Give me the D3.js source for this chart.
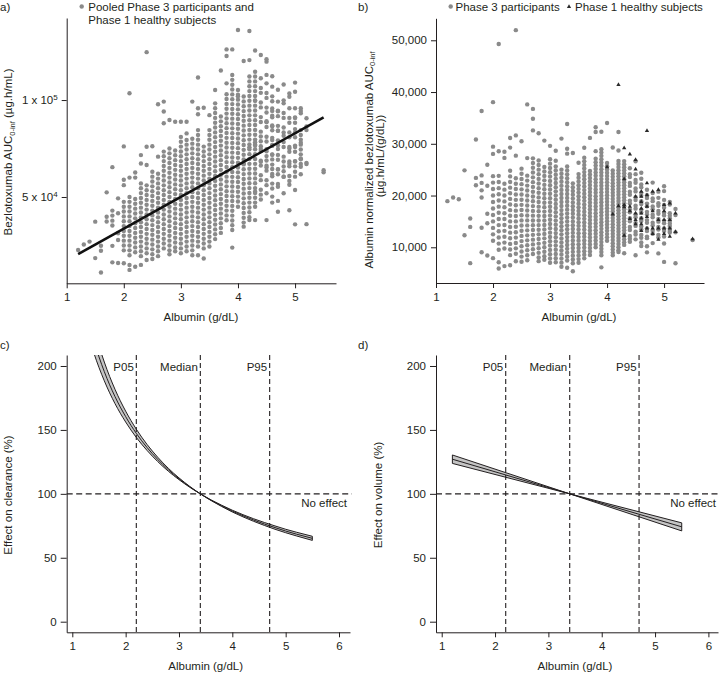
<!DOCTYPE html>
<html><head><meta charset="utf-8">
<script src="https://cdn.jsdelivr.net/npm/d3@7"></script>
<style>
body{margin:0;background:#fff}
svg{display:block}
text{font-family:"Liberation Sans",Arial,Helvetica,sans-serif;fill:#231f20}
</style>
</head><body>
<svg id="chart" width="720" height="673"></svg>
<script>
// ---------------- DATA ----------------
// Albumin columns (g/dL) of panel a; AUC values in thousand µg.h/mL
const albuminColumns = [1.2,1.3,1.4,1.5,1.6,1.7,1.8,1.9,2.0,2.1,2.2,2.3,2.4,2.5,2.6,2.7,2.8,2.9,3.0,3.1,3.2,3.3,3.4,3.5,3.6,3.7,3.8,3.9,4.0,4.1,4.2,4.3,4.4,4.5,4.6,4.7,4.8,4.9,5.0,5.1,5.2,5.3,5.4,5.5];
const aucColumns = [
 [22.7],
 [25.5],
 [27],
 [37.3,18.5],
 [24.9,22.3,11.1],
 [52.4,39.8,37.4],
 [65.4,43,40.4,37.8,35.3,24.8,16.3],
 [49.3,41.6,31.3,27.8,16],
 [76.1,58.9,56.1,47.5,45,42.5,40,37.5,35,32.5,30,27.5,25,22.5,15.8],
 [103.5,60,50,47.5,45,42.5,40,37.5,35,32.5,30,27.5,25,22.5,20,14.9,12.4],
 [62.6,60,49,46.5,44,41.5,39,36.5,34,31.5,29,26.5,24,21.5,14],
 [71.6,67.3,57,54.5,52,49.5,47,44.5,42,39.5,37,34.5,32,29.5,27,24.5,22,19.5,15],
 [124.7,75.9,66.5,56,53.5,51,48.5,46,43.5,41,38.5,36,33.5,31,28.5,26,23.5,21,17.5],
 [76.2,63,60.5,58,55.5,53,50.5,48,45.5,43,40.5,38,35.5,33,30.5,28,25.5,23,20.5,18],
 [97.8,70.8,62,59.5,57,54.5,52,49.5,47,44.5,42,39.5,37,34.5,32,29.5,27,24.5,22,19.5],
 [99.2,94.1,88,73.4,71,68.5,66,63.5,61,58.5,56,53.5,51,48.5,46,43.5,41,38.5,36,33.5,31,28.5,26,23.5],
 [89.7,75,72.5,70,67.5,65,62.5,60,57.5,55,52.5,50,47.5,45,42.5,40,37.5,35,32.5,30,27.5,25,22.5,20.5],
 [88.8,74,71.5,69,66.5,64,61.5,59,56.5,54,51.5,49,46.5,44,41.5,39,36.5,34,31.5,29,26.5,24,22],
 [88.8,81,78.5,76,73.5,71,68.5,66,63.5,61,58.5,56,53.5,51,48.5,46,43.5,41,38.5,36,33.5,31,28.5,26,23.5,21],
 [88.8,82.8,79.4,77,74.5,72,69.5,67,64.5,62,59.5,57,54.5,52,49.5,47,44.5,42,39.5,37,34.5,32,29.5,27,24.5,22],
 [99.2,80,77.5,75,72.5,70,67.5,65,62.5,60,57.5,55,52.5,50,47.5,45,42.5,40,37.5,35,32.5,30,27.5,25,22.5,20],
 [111.6,95.8,92.7,84.5,82,79.5,77,74.5,72,69.5,67,64.5,62,59.5,57,54.5,52,49.5,47,44.5,42,39.5,37,34.5,32,29.5,27,24.5,20],
 [96,76,73.5,71,68.5,66,63.5,61,58.5,56,53.5,51,48.5,46,43.5,41,38.5,36,33.5,31,28.5,26,23.5,18.3],
 [92.2,84.5,82,79.5,77,74.5,72,69.5,67,64.5,62,59.5,57,54.5,52,49.5,47,44.5,42,39.5,37,34.5,32,29.5,27,24.5],
 [105.2,98.3,95.8,93.3,90.8,88.3,85.8,83.3,80.8,78.3,75.8,73.3,70.8,68.3,65.8,63.3,60.8,58.3,55.8,53.3,50.8,48.3,45.8,43.3,40.8,38.3,35.8,33.3,30.8,28.3],
 [115.2,91.5,89,86.5,84,81.5,79,76.5,74,71.5,69,66.5,64,61.5,59,56.5,54,51.5,49,46.5,44,41.5,39,36.5,34,31.5],
 [126.1,122.7,108.6,103,100.5,98,95.5,93,90.5,88,85.5,83,80.5,78,75.5,73,70.5,68,65.5,63,60.5,58,55.5,53,50.5,48,45.5,43,40.5,38],
 [126.1,112.9,110.4,107.9,105.4,102.9,100.4,97.9,95.4,92.9,90.4,87.9,85.4,82.9,80.4,77.9,75.4,72.9,70.4,67.9,65.4,62.9,60.4,57.9,55.4,52.9,50.4,47.9,45.4,42.9,40.4,37.9,35.4,33,23.9],
 [136.1,105.2,102.7,100.2,97.7,95.2,92.7,90.2,87.7,85.2,82.7,80.2,77.7,75.2,72.7,70.2,67.7,65.2,62.7,60.2,57.7,55.2,52.7,50.2,47.7,45],
 [120.1,101.8,99.3,96.8,94.3,91.8,89.3,86.8,84.3,81.8,79.3,76.8,74.3,71.8,69.3,66.8,64.3,61.8,59.3,56.8,54.3,51.8,49.3,46.8,44.3,41.8,39.3,36.8,34.7],
 [135.6,120.6,112.1,109.6,107.1,104.6,102.1,99.6,97.1,94.6,92.1,89.6,87.1,84.6,82.1,79.6,77.1,74.6,72.1,69.6,67.1,64.6,62.1,59.6,57.1,54.6,52.1,49.6,47.1,44.6,42.1,39.6,38.1],
 [114.6,112.1,109.6,107.1,104.6,102.1,99.6,97.1,94.6,92.1,89.6,87.1,84.6,82.1,79.6,77.1,74.6,72.1,69.6,67.1,64.6,62.1,59.6,57.1,54.6,52.1,49.6,47.1,45,38.1],
 [111.2,106.2,103.7,98.7,96.2,91.2,88.7,83.7,81.2,76.2,73.7,68.7,66.2,61.2,58.7,53.7,51.2,48.7],
 [119.8,108.6,103.6,101.1,96.1,93.6,88.6,86.1,81.1,78.6,73.6,71.1,66.1,63.6,58.6,56.1,51.9,38.1],
 [112.3,106.9,101.9,99.4,94.4,91.9,86.9,84.4,79.4,76.9,71.9,69.4,64.4,61.9,56.9,54.4,50.2,47.1],
 [99.2,94.2,91.7,86.7,84.2,79.2,76.7,71.7,69.2,64.2,61.7,56.7,55.3,48,42.4],
 [108,98.3,93.3,90.8,85.8,83.3,78.3,75.8,70.8,68.3,63.3,60.5,51.9],
 [101.7,95.8,90.8,88.3,83.3,80.8,75.8,73.3,68.3,65.8,60.8,58.3,43.2],
 [109,104.3,95.8,90.8,88.3,83.3,80.8,75.8,73.3,68.3,65.8,60.5,53.6,35.9],
 [95.8,93.2,84.5,82,79.5,77,74.5,72,69.5,67,65.6],
 [90.6,84.5,67,36],
 [],
 [],
 [62.7]
];
// Phase 1 healthy subjects (panel b triangles): albumin g/dL, normalized AUC (thousand µg.h/mL/(g/dL))
const phase1Alb  = [4.0,4.1,4.2,4.2,4.3,4.3,4.3,4.3,4.3,4.4,4.4,4.4,4.4,4.5,4.5,4.5,4.5,4.5,4.5,4.6,4.6,4.6,4.6,4.6,4.6,4.6,4.6,4.7,4.7,4.7,4.7,4.7,4.7,4.8,4.8,4.8,4.8,4.9,4.9,4.9,4.9,5.0,5.0,5.0,5.0,5.0,5.1,5.1,5.1,5.1,5.2,5.2,5.5];
const phase1Norm = [25.5,16.4,41.4,18,29.2,23.2,18.2,17.8,12.3,28.0,17.9,17.0,15.5,26.9,25.1,19.8,16.6,15.3,14.5,20.8,19.8,18.8,17.5,16.6,15.6,14.5,13.2,32.5,22.4,20.1,17.9,15.9,13.7,20.8,17.0,13.7,12.6,21.1,15.3,13.7,11.5,18.2,17.0,15.3,13.7,12.6,18.5,15.3,13.7,12.1,16.6,13.0,11.6];
// Regression line of panel a (end points)
const fitAlb = [1.2, 5.5];
const fitAuc = [20.5, 91.1];
// Panel c: effect on clearance (%) – median curve and confidence band
const clAlb   = [1.2,1.4,1.6,1.8,2.0,2.2,2.4,2.6,2.8,3.0,3.2,3.4,3.6,3.8,4.0,4.2,4.4,4.6,4.8,5.0,5.2,5.5];
const clMid   = [252.7,220.3,195.6,176.1,160.4,147.3,136.3,127.0,118.9,111.8,105.5,100,95.0,90.6,86.5,82.9,79.5,76.4,73.6,70.9,68.5,65.2];
const clLow   = [239.8,210.7,188.4,170.6,156.2,144.1,134.0,125.3,117.7,111.1,105.2,100,95.3,91.1,87.2,83.7,80.5,77.6,74.9,72.3,70.0,66.8];
const clHigh  = [266.2,230.3,203.1,181.8,164.7,150.6,138.7,128.7,120.0,112.5,105.9,100,94.8,90.1,85.8,82.0,78.5,75.3,72.3,69.6,67.1,63.6];
// Panel d: effect on volume (%)
const vAlb  = [1.2, 3.4, 5.5];
const vMid  = [127.1, 100, 74.2];
const vLow  = [123.8, 100, 77.3];
const vHigh = [130.4, 100, 71.0];
// Reference lines
const refLabels = ["P05","Median","P95"];
const refAlb = [2.2, 3.4, 4.7];
const noEffect = 100;
// Ticks
const xTicksAB = [1,2,3,4,5];
const xTicksCD = [1,2,3,4,5,6];
const yTicksA = [50,100];
const yTickLabelsA = [["5 x 10","4"],["1 x 10","5"]];
const yTicksB = [10,20,30,40,50];
const yTicksCD = [0,50,100,150,200];

// ---------------- DRAWING ----------------
const INK = "#231f20", DOT = "#8a8a8a", BAND = "#c4c4c4";
const FONT = '"Liberation Sans",Arial,Helvetica,sans-serif';
const svg = d3.select("#chart");
const defs = svg.append("defs");

function styleAxis(g){
  g.attr("font-size",11.5).attr("font-family",FONT).attr("color",INK);
  g.selectAll("text").attr("fill",INK);
  g.selectAll("path.domain,line").attr("stroke",INK).attr("stroke-width",1);
}
function clip(id,x0,y0,x1,y1){
  defs.append("clipPath").attr("id",id).append("rect").attr("x",x0).attr("y",y0).attr("width",x1-x0).attr("height",y1-y0);
}

// ===== Panel a =====
const xA = d3.scaleLinear().domain([1,5.717]).range([66.7,336]);
const yA = d3.scaleLinear().domain([5.5,142.3]).range([283.3,18]);
clip("clipA",66.7,18,336,283.3);
const pointsA = [];
albuminColumns.forEach((a,i)=>aucColumns[i].forEach(v=>pointsA.push([a,v])));
phase1Alb.forEach((a,i)=>pointsA.push([a, phase1Norm[i]*a]));
svg.append("g").attr("clip-path","url(#clipA)").selectAll("circle").data(pointsA).join("circle")
  .attr("cx",d=>xA(d[0])).attr("cy",d=>yA(d[1])).attr("r",2.2).attr("fill",DOT);
svg.append("line").attr("x1",xA(fitAlb[0])).attr("y1",yA(fitAuc[0])).attr("x2",xA(fitAlb[1])).attr("y2",yA(fitAuc[1]))
  .attr("stroke","#111").attr("stroke-width",2.6);
svg.append("g").attr("transform","translate(0,283.3)")
  .call(d3.axisBottom(xA).tickValues(xTicksAB).tickFormat(d3.format("d")).tickSize(5).tickSizeOuter(0).tickPadding(5)).call(styleAxis);
const axA = svg.append("g").attr("transform","translate(66.7,0)")
  .call(d3.axisLeft(yA).tickValues(yTicksA).tickSize(5).tickSizeOuter(0).tickPadding(4)).call(styleAxis);
axA.selectAll(".tick text").each(function(d,i){
  const t = d3.select(this); t.text("");
  t.append("tspan").text(yTickLabelsA[i][0]);
  t.append("tspan").attr("dy",-4.5).attr("font-size",8).text(yTickLabelsA[i][1]);
});
svg.append("text").attr("x",201).attr("y",321).attr("text-anchor","middle").attr("font-size",11.5).text("Albumin (g/dL)");
{
  const t = svg.append("text").attr("transform","translate(12,152) rotate(-90)").attr("text-anchor","middle").attr("font-size",11.5);
  t.append("tspan").text("Bezlotoxumab AUC");
  t.append("tspan").attr("font-size",7.5).attr("dy",2.5).text("0-inf");
  t.append("tspan").attr("dy",-2.5).text(" (µg.h/mL)");
}
svg.append("text").attr("x",0).attr("y",11).attr("font-size",11.5).text("a)");
svg.append("circle").attr("cx",81.7).attr("cy",6.5).attr("r",2.2).attr("fill",DOT);
svg.append("text").attr("x",88.3).attr("y",10.5).attr("font-size",11.5).text("Pooled Phase 3 participants and");
svg.append("text").attr("x",88.3).attr("y",24).attr("font-size",11.5).text("Phase 1 healthy subjects");

// ===== Panel b =====
const xB = d3.scaleLinear().domain([1,5.70]).range([436,704]);
const yB = d3.scaleLinear().domain([3.1,54.25]).range([283,18.3]);
clip("clipB",436,18.3,704,283);
const pointsB = [];
albuminColumns.forEach((a,i)=>aucColumns[i].forEach(v=>pointsB.push([a,v/a])));
const gB = svg.append("g").attr("clip-path","url(#clipB)");
gB.selectAll("circle").data(pointsB).join("circle")
  .attr("cx",d=>xB(d[0])).attr("cy",d=>yB(d[1])).attr("r",2.2).attr("fill",DOT);
const tri = d3.symbol().type(d3.symbolTriangle).size(8);
gB.selectAll("path.tri").data(phase1Alb.map((a,i)=>[a,phase1Norm[i]])).join("path").attr("class","tri")
  .attr("d",tri).attr("transform",d=>`translate(${xB(d[0])},${yB(d[1])})`).attr("fill","#2a2a2a");
svg.append("g").attr("transform","translate(0,283)")
  .call(d3.axisBottom(xB).tickValues(xTicksAB).tickFormat(d3.format("d")).tickSize(5).tickSizeOuter(0).tickPadding(5)).call(styleAxis);
svg.append("g").attr("transform","translate(436,0)")
  .call(d3.axisLeft(yB).tickValues(yTicksB).tickFormat(d=>d3.format(",")(d*1000)).tickSize(5).tickSizeOuter(0).tickPadding(4)).call(styleAxis);
svg.append("text").attr("x",579).attr("y",321).attr("text-anchor","middle").attr("font-size",11.5).text("Albumin (g/dL)");
{
  const t = svg.append("text").attr("transform","translate(372.5,160) rotate(-90)").attr("text-anchor","middle").attr("font-size",11.5);
  t.append("tspan").text("Albumin normalized bezlotoxumab AUC");
  t.append("tspan").attr("font-size",7.5).attr("dy",2.5).text("0-inf");
  svg.append("text").attr("transform","translate(384,156) rotate(-90)").attr("text-anchor","middle").attr("font-size",11.5).text("(µg.h/mL/(g/dL))");
}
svg.append("text").attr("x",358).attr("y",11).attr("font-size",11.5).text("b)");
svg.append("circle").attr("cx",450.7).attr("cy",6.5).attr("r",2.2).attr("fill",DOT);
svg.append("text").attr("x",455.5).attr("y",10.5).attr("font-size",11.5).text("Phase 3 participants");
svg.append("path").attr("d",tri).attr("transform","translate(569,6.8)").attr("fill","#2a2a2a");
svg.append("text").attr("x",575).attr("y",10.5).attr("font-size",11.5).text("Phase 1 healthy subjects");

// ===== Panels c & d =====
function effectPanel(opt){
  const x = d3.scaleLinear().domain(opt.xd).range(opt.xr);
  const y = d3.scaleLinear().domain([-8.3,208.6]).range([632.3,355]);
  clip(opt.id, opt.xr[0], 355, opt.xr[1], 632.3);
  const g = svg.append("g").attr("clip-path",`url(#${opt.id})`);
  const rows = opt.alb.map((a,i)=>({a, lo:opt.lo[i], hi:opt.hi[i], mid:opt.mid[i]}));
  const curve = opt.smooth ? d3.curveMonotoneX : d3.curveLinear;
  g.append("path").datum(rows)
    .attr("d", d3.area().x(d=>x(d.a)).y0(d=>y(d.lo)).y1(d=>y(d.hi)).curve(curve))
    .attr("fill",BAND).attr("stroke",INK).attr("stroke-width",1);
  g.append("path").datum(rows)
    .attr("d", d3.line().x(d=>x(d.a)).y(d=>y(d.mid)).curve(curve))
    .attr("fill","none").attr("stroke",INK).attr("stroke-width",1);
  refAlb.forEach((r,i)=>{
    svg.append("line").attr("x1",x(r)).attr("x2",x(r)).attr("y1",355).attr("y2",632.3)
      .attr("stroke",INK).attr("stroke-width",1.1).attr("stroke-dasharray","5,3");
    svg.append("text").attr("x",x(r)-2.5).attr("y",371).attr("text-anchor","end").attr("font-size",11.5).text(refLabels[i]);
  });
  svg.append("line").attr("x1",opt.xr[0]).attr("x2",opt.hEnd).attr("y1",y(noEffect)).attr("y2",y(noEffect))
    .attr("stroke",INK).attr("stroke-width",1.1).attr("stroke-dasharray","6,3.5");
  svg.append("text").attr("x",opt.noX).attr("y",507).attr("text-anchor","end").attr("font-size",11.5).text("No effect");
  svg.append("g").attr("transform","translate(0,632.3)")
    .call(d3.axisBottom(x).tickValues(xTicksCD).tickFormat(d3.format("d")).tickSize(5).tickSizeOuter(0).tickPadding(5)).call(styleAxis);
  svg.append("g").attr("transform",`translate(${opt.xr[0]},0)`)
    .call(d3.axisLeft(y).tickValues(yTicksCD).tickSize(6).tickSizeOuter(0).tickPadding(4)).call(styleAxis);
  svg.append("text").attr("x",opt.titleX).attr("y",670).attr("text-anchor","middle").attr("font-size",11.5).text("Albumin (g/dL)");
  svg.append("text").attr("transform",`translate(${opt.yTitleX},495) rotate(-90)`).attr("text-anchor","middle").attr("font-size",11.5).text(opt.yTitle);
  svg.append("text").attr("x",opt.lx).attr("y",349).attr("font-size",11.5).text(opt.letter);
}
effectPanel({id:"clipC", xd:[0.895,6.206], xr:[66.7,350], alb:clAlb, lo:clLow, hi:clHigh, mid:clMid, smooth:true,
  hEnd:352, noX:347, titleX:205.7, yTitleX:12, yTitle:"Effect on clearance (%)", lx:0, letter:"c)"});
effectPanel({id:"clipD", xd:[0.893,6.18], xr:[436,718], alb:vAlb, lo:vLow, hi:vHigh, mid:vMid, smooth:false,
  hEnd:720, noX:716, titleX:575, yTitleX:382, yTitle:"Effect on volume (%)", lx:358, letter:"d)"});
</script>
</body></html>
